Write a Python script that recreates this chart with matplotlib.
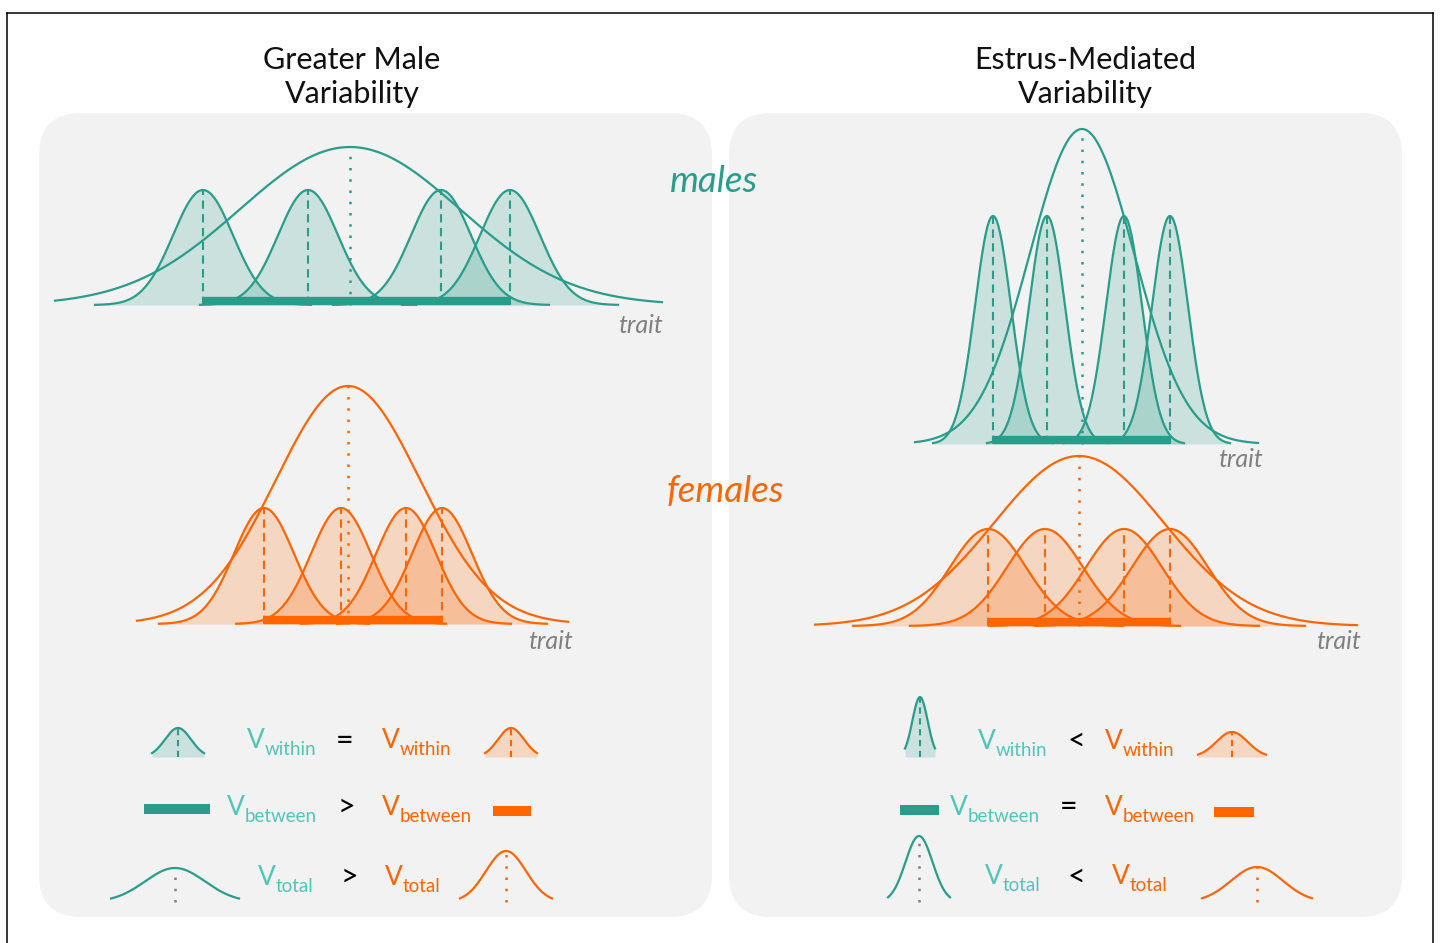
import numpy as np
import matplotlib
matplotlib.use("Agg")
import matplotlib.pyplot as plt
from matplotlib.patches import FancyBboxPatch

plt.rcParams["font.family"] = ["Lato", "DejaVu Sans"]

TEAL = "#2a9d8a"
TEAL_TXT = "#52c6b6"
ORANGE = "#ff6600"
GREY = "#808080"
PANEL = "#f2f2f2"

W, H, PX = 1440, 943, 100.0   # figure size in px, px per trait unit

# ---- distributions (trait units, relative to the overall mean) ----
# greater male variability: males
gm_m_means = [-1.47, -0.42, 0.91, 1.60]
gm_m_sd, gm_m_peak, gm_m_tail = 0.30, 1.15, 1.08
gm_m_tot = dict(sd=1.10, peak=1.58, lo=-2.95, hi=3.12)
# greater male variability: females
gm_f_means = [-0.84, -0.07, 0.58, 0.94]
gm_f_sd, gm_f_peak, gm_f_tail = 0.30, 1.16, 1.05
gm_f_tot = dict(sd=0.72, peak=2.38, lo=-2.11, hi=2.20)
# estrus-mediated variability: males
em_m_means = [-0.89, -0.35, 0.42, 0.88]
em_m_sd, em_m_peak, em_m_tail = 0.18, 2.28, 0.60
em_m_tot = dict(sd=0.52, peak=3.15, lo=-1.67, hi=1.76)
# estrus-mediated variability: females
em_f_means = [-0.91, -0.34, 0.45, 0.91]
em_f_sd, em_f_peak, em_f_tail = 0.38, 0.97, 1.35
em_f_tot = dict(sd=0.85, peak=1.70, lo=-2.64, hi=2.78)

# ---- legend icons: (sd, peak, half extent) ----
gm_icons = {"m_within": (0.13, 0.29, 0.26), "f_within": (0.13, 0.29, 0.26),
            "m_total": (0.30, 0.34, 0.64), "f_total": (0.20, 0.51, 0.46)}
em_icons = {"m_within": (0.076, 0.60, 0.15), "f_within": (0.157, 0.25, 0.34),
            "m_total": (0.135, 0.66, 0.31), "f_total": (0.26, 0.35, 0.55)}
gm_bars = [0.66, 0.38]   # between-bar lengths: males, females
em_bars = [0.39, 0.40]

sub_labels = ["within", "between", "total"]
gm_rel = ["=", ">", ">"]
em_rel = ["<", "=", "<"]


def gauss(x, mu, sd, peak):
    return peak * np.exp(-0.5 * ((x - mu) / sd) ** 2)


fig = plt.figure(figsize=(W / 100, H / 100), dpi=100)
bg = fig.add_axes([0, 0, 1, 1])
bg.set_xlim(0, W)
bg.set_ylim(H, 0)
bg.axis("off")

# frame and panels
bg.plot([7, 7], [13, H], color="black", lw=1.1)
bg.plot([7, 1433], [13, 13], color="black", lw=1.1)
bg.plot([1433, 1433], [13, H], color="black", lw=1.1)
for x0 in (39, 729):
    bg.add_patch(FancyBboxPatch((x0, 113), 673, 804,
                                boxstyle="round,pad=0,rounding_size=42",
                                fc=PANEL, ec="none"))

bg.text(352, 77, "Greater Male\nVariability", ha="center", va="center",
        fontsize=22, linespacing=1.28, color="#111111")
bg.text(1085, 77, "Estrus-Mediated\nVariability", ha="center", va="center",
        fontsize=22, linespacing=1.28, color="#111111")
bg.text(714, 192, "males", ha="center", va="baseline", fontsize=26.5,
        style="italic", color=TEAL)
bg.text(725, 502, "females", ha="center", va="baseline", fontsize=26.5,
        style="italic", color=ORANGE)
for tx, ty in [(640, 333), (550, 649), (1240, 467), (1338, 649)]:
    bg.text(tx, ty, "trait", ha="center", va="baseline", fontsize=18,
            style="italic", color=GREY)


def sub_axes(cx, by, half_w, up, down):
    ax = fig.add_axes([(cx - half_w) / W, (H - by - down) / H,
                       2 * half_w / W, (up + down) / H])
    ax.set_xlim(-half_w / PX, half_w / PX)
    ax.set_ylim(-down / PX, up / PX)
    ax.axis("off")
    return ax


def draw_dist(ax, means, sd, peak, tail, tot, color):
    curves = []
    for m in means:
        x = np.linspace(m - tail, m + tail, 300)
        y = gauss(x, m, sd, peak)
        ax.fill_between(x, 0, y, color=color, alpha=0.2, linewidth=0)
        curves.append((x, y))
    for (x, y), m in zip(curves, means):
        ax.plot(x, y, color=color, lw=1.6)
        ax.plot([m, m], [0, peak], color=color, lw=1.5, dashes=(4, 2.6))
    xt = np.linspace(tot["lo"], tot["hi"], 400)
    ax.plot(xt, gauss(xt, 0, tot["sd"], tot["peak"]), color=color, lw=1.6)
    ax.plot([0, 0], [0, tot["peak"]], color=color, lw=1.8, dashes=(1, 3.5))
    ax.plot([means[0], means[-1]], [0.04, 0.04], color=color, lw=6,
            solid_capstyle="butt", zorder=5)


draw_dist(sub_axes(350, 305, 360, 180, 15), gm_m_means, gm_m_sd, gm_m_peak,
          gm_m_tail, gm_m_tot, TEAL)
draw_dist(sub_axes(348, 624, 360, 250, 15), gm_f_means, gm_f_sd, gm_f_peak,
          gm_f_tail, gm_f_tot, ORANGE)
draw_dist(sub_axes(1082, 444, 360, 330, 15), em_m_means, em_m_sd, em_m_peak,
          em_m_tail, em_m_tot, TEAL)
draw_dist(sub_axes(1079, 626, 360, 180, 15), em_f_means, em_f_sd, em_f_peak,
          em_f_tail, em_f_tot, ORANGE)


def icon(cx, by, params, color, kind):
    sd, peak, ext = params
    ax = sub_axes(cx, by, 80, 80, 10)
    x = np.linspace(-ext, ext, 200)
    y = gauss(x, 0, sd, peak)
    if kind == "within":
        ax.fill_between(x, 0, y, color=color, alpha=0.2, linewidth=0)
        ax.plot([0, 0], [0, peak], color=color, lw=1.5, dashes=(3, 2.2))
    else:
        ax.plot([0, 0], [0, peak], color=GREY if color == TEAL else color,
                lw=1.8, dashes=(1, 3.5))
    ax.plot(x, y, color=color, lw=1.6)


def bar(cx, cy, length, color):
    ax = sub_axes(cx, cy, 80, 20, 20)
    ax.plot([-length / 2, length / 2], [0, 0], color=color, lw=7.2,
            solid_capstyle="butt")


def vlabel(x, y, sub, color):
    bg.text(x, y, "V", fontsize=19, color=color, va="baseline")
    bg.text(x + 18, y + 7, sub, fontsize=13.5, color=color, va="baseline")


# legend: greater male variability
icon(178, 757, gm_icons["m_within"], TEAL, "within")
icon(511, 757, gm_icons["f_within"], ORANGE, "within")
bar(177, 809, gm_bars[0], TEAL)
bar(512, 811, gm_bars[1], ORANGE)
icon(175, 902, gm_icons["m_total"], TEAL, "total")
icon(506, 902, gm_icons["f_total"], ORANGE, "total")
for i, (tx, ox, ty, rx, ry) in enumerate([(247, 382, 748, 345, 741),
                                         (227, 382, 815, 346, 807),
                                         (258, 385, 885, 349, 877)]):
    vlabel(tx, ty, sub_labels[i], TEAL_TXT)
    vlabel(ox, ty, sub_labels[i], ORANGE)
    bg.text(rx, ry, gm_rel[i], ha="center", va="center", fontsize=22,
            color="black")

# legend: estrus-mediated variability
icon(920, 757, em_icons["m_within"], TEAL, "within")
icon(1232, 757, em_icons["f_within"], ORANGE, "within")
bar(919, 810, em_bars[0], TEAL)
bar(1234, 812, em_bars[1], ORANGE)
icon(919, 902, em_icons["m_total"], TEAL, "total")
icon(1257, 902, em_icons["f_total"], ORANGE, "total")
for i, (tx, ox, ty, rx, ry) in enumerate([(978, 1105, 749, 1076, 741),
                                         (950, 1105, 815, 1069, 807),
                                         (985, 1112, 884, 1076, 877)]):
    vlabel(tx, ty, sub_labels[i], TEAL_TXT)
    vlabel(ox, ty, sub_labels[i], ORANGE)
    bg.text(rx, ry, em_rel[i], ha="center", va="center", fontsize=22,
            color="black")

fig.savefig("out.png", dpi=100, facecolor="white")
